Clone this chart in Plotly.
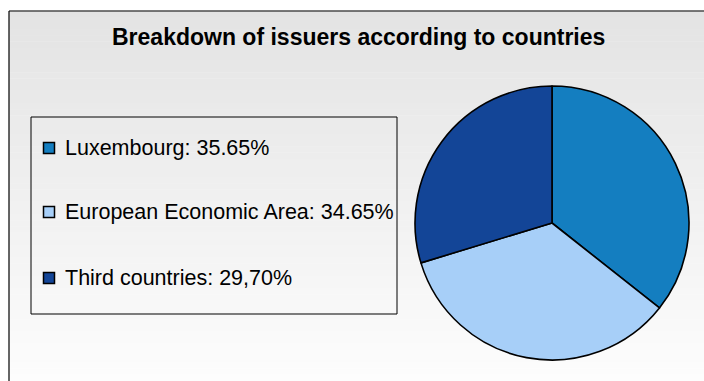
import plotly.graph_objects as go

# ---- data ----
categories = ["Luxembourg", "European Economic Area", "Third countries"]
values = [35.65, 34.65, 29.70]
value_labels = ["35.65%", "34.65%", "29,70%"]
colors = ["#147ec0", "#a7cff8", "#134597"]
title_text = "Breakdown of issuers according to countries"

W, H = 704, 381


def px(x):
    return x / W


def py(y):
    return 1 - y / H


fig = go.Figure()

fig.add_trace(go.Pie(
    labels=categories,
    values=values,
    sort=False,
    direction="clockwise",
    rotation=0,
    marker=dict(colors=colors, line=dict(color="#000000", width=1.6)),
    textinfo="none",
    hoverinfo="label+percent",
    showlegend=False,
    domain=dict(x=[px(415), px(689)], y=[py(360), py(86)]),
))

shapes = []
# gradient background panel
top, bottom = 11, 381
c0, c1 = 227, 253
n = 60
for i in range(n):
    y0 = top + (bottom - top) * i / n
    y1 = top + (bottom - top) * (i + 1) / n
    c = round(c0 + (c1 - c0) * (i + 0.5) / n)
    shapes.append(dict(type="rect", xref="paper", yref="paper",
                       x0=px(9), x1=1.0, y0=py(y1), y1=py(y0) + 0.001,
                       fillcolor=f"rgb({c},{c},{c})", line=dict(width=0),
                       layer="below"))
# panel border (left and top)
shapes.append(dict(type="line", xref="paper", yref="paper",
                   x0=px(9), x1=px(9), y0=0, y1=py(11),
                   line=dict(color="#000000", width=1.2), layer="below"))
shapes.append(dict(type="line", xref="paper", yref="paper",
                   x0=px(9), x1=1.0, y0=py(11), y1=py(11),
                   line=dict(color="#000000", width=1.2), layer="below"))
# legend box
shapes.append(dict(type="rect", xref="paper", yref="paper",
                   x0=px(31), x1=px(397), y0=py(314), y1=py(117),
                   line=dict(color="#000000", width=1), fillcolor="rgba(0,0,0,0)",
                   layer="below"))

annotations = [dict(text=f"<b>{title_text}</b>", xref="paper", yref="paper",
                    x=px(359), y=py(37), xanchor="center", yanchor="middle",
                    showarrow=False,
                    font=dict(family="Liberation Sans, Arial", size=23, color="#000000"))]

rows_y = [148, 212, 278]
for cat, lab, col, yy in zip(categories, value_labels, colors, rows_y):
    shapes.append(dict(type="rect", xref="paper", yref="paper",
                       x0=px(43.5), x1=px(54.5), y0=py(yy + 5.5), y1=py(yy - 5.5),
                       fillcolor=col, line=dict(color="#000000", width=1.5)))
    annotations.append(dict(text=f"{cat}: {lab}", xref="paper", yref="paper",
                            x=px(63), y=py(yy - 0.5), xanchor="left", yanchor="middle",
                            showarrow=False,
                            font=dict(family="Liberation Sans, Arial", size=21.5, color="#000000")))

fig.update_layout(
    width=W, height=H,
    margin=dict(l=0, r=0, t=0, b=0),
    paper_bgcolor="#ffffff",
    plot_bgcolor="#ffffff",
    shapes=shapes,
    annotations=annotations,
    showlegend=False,
)

fig.write_html("out.html")
